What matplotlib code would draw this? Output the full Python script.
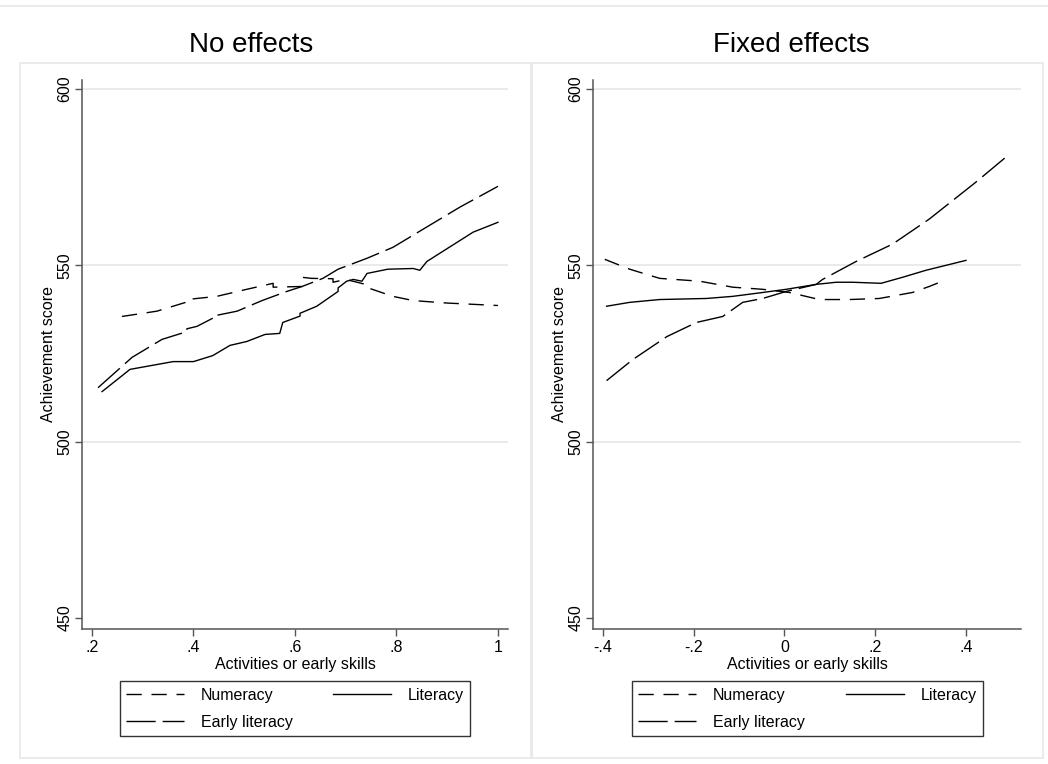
import matplotlib
matplotlib.use("Agg")
import matplotlib.pyplot as plt
from matplotlib.patches import Rectangle
from matplotlib.lines import Line2D

plt.rcParams['font.family'] = ['Liberation Sans', 'DejaVu Sans']

# ---- data ----
titles = ["No effects", "Fixed effects"]
series_names = ["Numeracy", "Early literacy", "Literacy"]

# left panel: no effects
ne_num_x = [0.259, 0.328, 0.387, 0.387, 0.446, 0.505, 0.557, 0.557, 0.614, 0.614, 0.633, 0.675, 0.675, 0.70, 0.728, 0.744, 0.744, 0.793, 0.833, 0.90, 1.0]
ne_num_y = [535.5, 537.0, 539.6, 540.3, 541.2, 543.2, 544.9, 543.8, 544.0, 546.6, 546.3, 546.2, 545.2, 546.0, 545.0, 544.4, 543.6, 541.2, 540.0, 539.3, 538.6]
ne_early_x = [0.212, 0.279, 0.338, 0.387, 0.387, 0.407, 0.438, 0.438, 0.486, 0.535, 0.584, 0.614, 0.655, 0.685, 0.742, 0.793, 0.852, 0.925, 1.0]
ne_early_y = [515.3, 523.9, 529.0, 531.2, 532.0, 532.7, 535.0, 535.6, 537.0, 540.0, 542.6, 544.0, 546.3, 548.9, 552.0, 555.1, 560.2, 566.5, 572.4]
ne_lit_x = [0.220, 0.275, 0.360, 0.400, 0.438, 0.472, 0.505, 0.541, 0.570, 0.576, 0.610, 0.610, 0.643, 0.685, 0.685, 0.702, 0.715, 0.732, 0.742, 0.783, 0.833, 0.846, 0.860, 0.951, 1.0]
ne_lit_y = [514.2, 520.5, 522.7, 522.7, 524.4, 527.3, 528.4, 530.4, 530.7, 533.8, 535.6, 536.4, 538.4, 542.6, 543.6, 545.5, 546.0, 545.5, 547.7, 548.9, 549.1, 548.6, 551.1, 559.4, 562.2]

# right panel: fixed effects
fe_num_x = [-0.396, -0.341, -0.275, -0.187, -0.114, -0.048, 0.011, 0.077, 0.143, 0.209, 0.282, 0.319, 0.352]
fe_num_y = [551.7, 548.9, 546.3, 545.5, 543.8, 543.2, 542.3, 540.3, 540.3, 540.6, 542.3, 544.0, 545.7]
fe_early_x = [-0.392, -0.334, -0.259, -0.194, -0.136, -0.092, -0.048, 0.004, 0.070, 0.084, 0.158, 0.238, 0.319, 0.422, 0.491]
fe_early_y = [517.3, 523.3, 529.8, 533.8, 535.5, 539.5, 540.6, 542.6, 544.6, 546.0, 551.1, 556.0, 563.1, 573.6, 581.0]
fe_lit_x = [-0.392, -0.341, -0.275, -0.172, -0.114, -0.048, 0.004, 0.070, 0.114, 0.150, 0.213, 0.260, 0.312, 0.400]
fe_lit_y = [538.4, 539.5, 540.3, 540.6, 541.2, 542.3, 543.2, 544.6, 545.2, 545.2, 544.9, 546.6, 548.6, 551.4]

ne_xticks = [0.2, 0.4, 0.6, 0.8, 1.0]
ne_xticklabels = ['.2', '.4', '.6', '.8', '1']
fe_xticks = [-0.4, -0.2, 0.0, 0.2, 0.4]
fe_xticklabels = ['-.4', '-.2', '0', '.2', '.4']
yticks = [450, 500, 550, 600]
yticklabels = ['450', '500', '550', '600']

# ---- styling ----
num_dash = (11, 7)
early_dash = (21, 5)
axis_col = '#555555'
grid_col = '#e8e8e8'
box_col = '#e8e8e8'

fig = plt.figure(figsize=(10.48, 7.64), dpi=100)

# panel frames like a combined stata graph
fig.add_artist(Line2D([0, 1], [0.9921, 0.9921], color=box_col, lw=1.2))
for x0 in [0.0191, 0.5076]:
    fig.add_artist(Rectangle((x0, 0.0079), 0.4876, 0.9097, fill=False,
                             edgecolor=box_col, lw=1.2))

panels = [
    dict(rect=[0.0782, 0.1767, 0.4065, 0.7186], xlim=(0.1803, 1.0197),
         xticks=ne_xticks, xlabels=ne_xticklabels,
         num=(ne_num_x, ne_num_y), early=(ne_early_x, ne_early_y), lit=(ne_lit_x, ne_lit_y),
         title_x=0.2395, leg=(0.1145, 0.0366, 0.334, 0.0733)),
    dict(rect=[0.5658, 0.1767, 0.4084, 0.7186], xlim=(-0.422, 0.5212),
         xticks=fe_xticks, xlabels=fe_xticklabels,
         num=(fe_num_x, fe_num_y), early=(fe_early_x, fe_early_y), lit=(fe_lit_x, fe_lit_y),
         title_x=0.7553, leg=(0.603, 0.0366, 0.335, 0.0733)),
]

for title, p in zip(titles, panels):
    ax = fig.add_axes(p['rect'])
    for y in yticks[1:]:
        ax.axhline(y, color=grid_col, lw=1.3, zorder=0)
    l1, = ax.plot(*p['num'], color='black', lw=1.0, dashes=num_dash)
    l2, = ax.plot(*p['early'], color='black', lw=1.0, dashes=early_dash)
    l3, = ax.plot(*p['lit'], color='black', lw=1.0)

    ax.set_xlim(*p['xlim'])
    ax.set_ylim(446.88, 602.55)
    ax.set_xticks(p['xticks'])
    ax.set_xticklabels(p['xlabels'])
    ax.set_yticks(yticks)
    ax.set_yticklabels(yticklabels, rotation=90, va='center')
    ax.tick_params(colors='black', labelsize=11.5, length=5, width=1)
    ax.tick_params(axis='x', color=axis_col, pad=3)
    ax.tick_params(axis='y', color=axis_col, pad=2)
    for s in ['top', 'right']:
        ax.spines[s].set_visible(False)
    for s in ['left', 'bottom']:
        ax.spines[s].set_color(axis_col)
        ax.spines[s].set_linewidth(1.1)
    ax.set_xlabel('Activities or early skills', fontsize=11.5, labelpad=1)
    ax.set_ylabel('Achievement score', fontsize=11.5, labelpad=1)

    fig.text(p['title_x'], 0.932, title, fontsize=20, ha='center', va='baseline')

    leg = fig.legend([l1, l2, l3], series_names, ncol=2, loc='lower left',
                     bbox_to_anchor=p['leg'], mode='expand', fontsize=11.5,
                     frameon=True, fancybox=False, handlelength=3.6,
                     handletextpad=1.05, labelspacing=0.75, borderpad=0.4,
                     borderaxespad=0)
    leg.get_frame().set_edgecolor('black')
    leg.get_frame().set_linewidth(1.0)

fig.savefig('out.png', dpi=100)
